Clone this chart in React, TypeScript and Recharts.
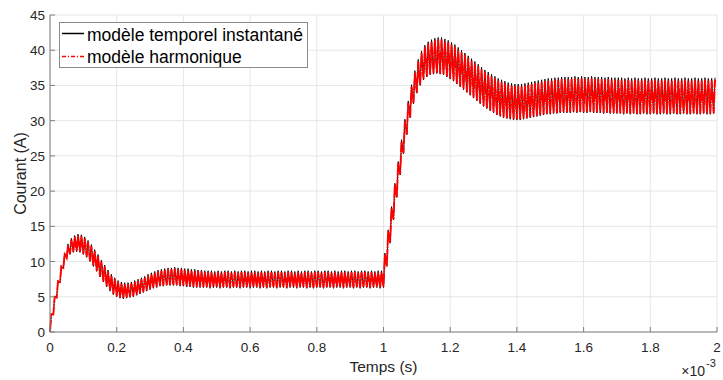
import React from 'react';
import { LineChart, Line, XAxis, YAxis, CartesianGrid } from 'recharts';

// temps en ms (affiché avec le facteur x10^-3) ; une période de découpage = 10 µs
const PERIODE = 0.01;
const MONTEE = 0.004;

const xTicks = [0, 0.2, 0.4, 0.6, 0.8, 1, 1.2, 1.4, 1.6, 1.8, 2];
const yTicks = [0, 5, 10, 15, 20, 25, 30, 35, 40, 45];

// modèle temporel instantané : sommets et creux de l'ondulation, période par période
const tempoHaut = [
  2.6, 5.1, 7.3, 9.4, 11.2, 12.5, 13.3, 13.7, 13.9, 13.8,
  13.5, 13.0, 12.4, 11.7, 11.0, 10.2, 9.5, 8.8, 8.2, 7.7,
  7.3, 7.1, 7.0, 7.0, 7.1, 7.3, 7.5, 7.7, 7.9, 8.2,
  8.4, 8.6, 8.8, 8.9, 9.0, 9.1, 9.1, 9.2, 9.1, 9.1,
  9.0, 9.0, 8.9, 8.9, 8.8, 8.8, 8.7, 8.7, 8.7, 8.6,
  8.7, 8.6, 8.7, 8.7, 8.6, 8.7, 8.6, 8.7, 8.7, 8.6,
  8.7, 8.7, 8.6, 8.7, 8.6, 8.7, 8.7, 8.6, 8.7, 8.7,
  8.6, 8.7, 8.7, 8.6, 8.7, 8.6, 8.7, 8.7, 8.6, 8.7,
  8.7, 8.6, 8.7, 8.7, 8.6, 8.7, 8.6, 8.7, 8.7, 8.6,
  8.7, 8.7, 8.6, 8.7, 8.7, 8.6, 8.7, 8.6, 8.7, 8.7,
  11.2, 14.5, 17.8, 21.1, 24.2, 27.3, 30.2, 32.8, 35.1, 37.1,
  38.7, 39.9, 40.7, 41.2, 41.5, 41.7, 41.8, 41.8, 41.6, 41.4,
  41.1, 40.8, 40.4, 40.0, 39.6, 39.2, 38.8, 38.4, 38.0, 37.6,
  37.2, 36.9, 36.6, 36.3, 36.0, 35.8, 35.6, 35.4, 35.3, 35.2,
  35.2, 35.2, 35.3, 35.4, 35.5, 35.6, 35.7, 35.8, 35.9, 36.0,
  36.0, 36.1, 36.1, 36.2, 36.2, 36.2, 36.2, 36.3, 36.2, 36.3,
  36.2, 36.2, 36.3, 36.2, 36.2, 36.2, 36.1, 36.2, 36.1, 36.1,
  36.1, 36.1, 36.0, 36.1, 36.0, 36.1, 36.0, 36.0, 36.1, 36.0,
  36.0, 36.1, 36.0, 36.0, 36.1, 36.0, 36.0, 36.1, 36.0, 36.0,
  36.1, 36.0, 36.0, 36.1, 36.0, 36.0, 36.1, 36.0, 36.0, 36.1,
];

const tempoBas = [
  0.0, 2.4, 4.8, 7.0, 9.0, 10.4, 11.0, 11.3, 11.4, 11.3,
  11.0, 10.6, 10.0, 9.3, 8.6, 7.8, 7.1, 6.4, 5.8, 5.3,
  5.0, 4.8, 4.7, 4.8, 4.9, 5.0, 5.2, 5.4, 5.6, 5.8,
  6.0, 6.2, 6.3, 6.5, 6.5, 6.6, 6.6, 6.6, 6.6, 6.5,
  6.5, 6.4, 6.4, 6.3, 6.3, 6.3, 6.3, 6.3, 6.2, 6.3,
  6.3, 6.2, 6.3, 6.3, 6.2, 6.3, 6.3, 6.2, 6.3, 6.3,
  6.2, 6.3, 6.3, 6.2, 6.3, 6.2, 6.3, 6.3, 6.2, 6.3,
  6.3, 6.2, 6.3, 6.3, 6.2, 6.3, 6.3, 6.2, 6.3, 6.2,
  6.3, 6.3, 6.2, 6.3, 6.3, 6.2, 6.3, 6.3, 6.2, 6.3,
  6.3, 6.2, 6.3, 6.2, 6.3, 6.3, 6.2, 6.3, 6.3, 6.2,
  6.3, 9.3, 12.6, 15.9, 19.1, 22.3, 25.3, 28.0, 30.4, 32.4,
  33.9, 35.0, 35.8, 36.2, 36.5, 36.6, 36.7, 36.6, 36.5, 36.2,
  35.9, 35.6, 35.2, 34.8, 34.4, 34.0, 33.6, 33.2, 32.8, 32.4,
  32.0, 31.7, 31.4, 31.1, 30.8, 30.6, 30.4, 30.3, 30.2, 30.1,
  30.1, 30.1, 30.2, 30.3, 30.4, 30.5, 30.6, 30.7, 30.8, 30.9,
  30.9, 31.0, 31.0, 31.1, 31.1, 31.1, 31.1, 31.2, 31.1, 31.2,
  31.1, 31.1, 31.2, 31.1, 31.1, 31.1, 31.0, 31.1, 31.0, 31.0,
  31.0, 31.0, 30.9, 31.0, 30.9, 31.0, 30.9, 30.9, 31.0, 30.9,
  30.9, 31.0, 30.9, 30.9, 31.0, 30.9, 30.9, 31.0, 30.9, 30.9,
  31.0, 30.9, 30.9, 31.0, 30.9, 30.9, 31.0, 30.9, 30.9, 31.0,
];

// modèle harmonique : même allure, ondulation un peu plus faible
const harmoHaut = [
  2.5, 5.0, 7.2, 9.3, 11.0, 12.3, 13.1, 13.5, 13.7, 13.6,
  13.3, 12.8, 12.2, 11.5, 10.8, 10.0, 9.3, 8.6, 8.0, 7.5,
  7.1, 6.9, 6.8, 6.8, 6.9, 7.1, 7.3, 7.5, 7.7, 8.0,
  8.2, 8.4, 8.6, 8.7, 8.8, 8.9, 8.9, 9.0, 8.9, 8.9,
  8.8, 8.8, 8.7, 8.7, 8.6, 8.6, 8.5, 8.5, 8.5, 8.4,
  8.5, 8.4, 8.5, 8.5, 8.4, 8.5, 8.4, 8.5, 8.5, 8.4,
  8.5, 8.5, 8.4, 8.5, 8.4, 8.5, 8.5, 8.4, 8.5, 8.5,
  8.4, 8.5, 8.5, 8.4, 8.5, 8.4, 8.5, 8.5, 8.4, 8.5,
  8.5, 8.4, 8.5, 8.5, 8.4, 8.5, 8.4, 8.5, 8.5, 8.4,
  8.5, 8.5, 8.4, 8.5, 8.5, 8.4, 8.5, 8.4, 8.5, 8.5,
  11.0, 14.3, 17.6, 20.9, 24.0, 27.0, 29.9, 32.5, 34.8, 36.8,
  38.4, 39.6, 40.4, 40.9, 41.2, 41.4, 41.5, 41.5, 41.3, 41.1,
  40.8, 40.5, 40.1, 39.7, 39.3, 38.9, 38.5, 38.1, 37.7, 37.3,
  36.9, 36.6, 36.3, 36.0, 35.7, 35.5, 35.3, 35.1, 35.0, 34.9,
  34.9, 34.9, 35.0, 35.1, 35.2, 35.3, 35.4, 35.5, 35.6, 35.7,
  35.7, 35.8, 35.8, 35.9, 35.9, 35.9, 35.9, 36.0, 35.9, 36.0,
  35.9, 35.9, 36.0, 35.9, 35.9, 35.9, 35.8, 35.9, 35.8, 35.8,
  35.8, 35.8, 35.7, 35.8, 35.7, 35.8, 35.7, 35.7, 35.8, 35.7,
  35.7, 35.8, 35.7, 35.7, 35.8, 35.7, 35.7, 35.8, 35.7, 35.7,
  35.8, 35.7, 35.7, 35.8, 35.7, 35.7, 35.8, 35.7, 35.7, 35.8,
];

const harmoBas = [
  0.0, 2.5, 4.9, 7.1, 9.1, 10.5, 11.1, 11.4, 11.5, 11.4,
  11.1, 10.7, 10.1, 9.4, 8.7, 7.9, 7.2, 6.5, 5.9, 5.4,
  5.1, 4.9, 4.8, 4.9, 5.0, 5.1, 5.3, 5.5, 5.7, 5.9,
  6.1, 6.3, 6.4, 6.6, 6.6, 6.7, 6.7, 6.7, 6.7, 6.6,
  6.6, 6.5, 6.5, 6.4, 6.4, 6.4, 6.4, 6.4, 6.3, 6.4,
  6.4, 6.3, 6.4, 6.4, 6.3, 6.4, 6.4, 6.3, 6.4, 6.4,
  6.3, 6.4, 6.4, 6.3, 6.4, 6.3, 6.4, 6.4, 6.3, 6.4,
  6.4, 6.3, 6.4, 6.4, 6.3, 6.4, 6.4, 6.3, 6.4, 6.3,
  6.4, 6.4, 6.3, 6.4, 6.4, 6.3, 6.4, 6.4, 6.3, 6.4,
  6.4, 6.3, 6.4, 6.3, 6.4, 6.4, 6.3, 6.4, 6.4, 6.3,
  6.4, 9.4, 12.7, 16.0, 19.2, 22.4, 25.4, 28.1, 30.5, 32.5,
  34.0, 35.1, 35.9, 36.3, 36.6, 36.7, 36.8, 36.7, 36.6, 36.3,
  36.0, 35.7, 35.3, 34.9, 34.5, 34.1, 33.7, 33.3, 32.9, 32.5,
  32.1, 31.8, 31.5, 31.2, 30.9, 30.7, 30.5, 30.4, 30.3, 30.2,
  30.2, 30.2, 30.3, 30.4, 30.5, 30.6, 30.7, 30.8, 30.9, 31.0,
  31.0, 31.1, 31.1, 31.2, 31.2, 31.2, 31.2, 31.3, 31.2, 31.3,
  31.2, 31.2, 31.3, 31.2, 31.2, 31.2, 31.1, 31.2, 31.1, 31.1,
  31.1, 31.1, 31.0, 31.1, 31.0, 31.1, 31.0, 31.0, 31.1, 31.0,
  31.0, 31.1, 31.0, 31.0, 31.1, 31.0, 31.0, 31.1, 31.0, 31.0,
  31.1, 31.0, 31.0, 31.1, 31.0, 31.0, 31.1, 31.0, 31.0, 31.1,
];

const data: { t: number; temporel: number; harmonique: number }[] = [];
tempoHaut.forEach((_, k) => {
  data.push({ t: k * PERIODE, temporel: tempoBas[k], harmonique: harmoBas[k] });
  data.push({ t: k * PERIODE + MONTEE, temporel: tempoHaut[k], harmonique: harmoHaut[k] });
});

const FONT = '"Liberation Sans", Arial, Helvetica, sans-serif';
const TEXT = '#262626';
const AXIS = '#7f7f7f';
const GRID = '#e6e6e6';
const PLOT_LEFT = 50;
const PLOT_BOTTOM = 332;

const XTick = (props: any) => {
  const { x, payload } = props;
  return (
    <g>
      <line x1={x} y1={PLOT_BOTTOM} x2={x} y2={PLOT_BOTTOM - 5} stroke={AXIS} />
      <text x={x} y={352} textAnchor="middle" fill={TEXT} fontSize={13.5} fontFamily={FONT}>
        {String(payload.value)}
      </text>
    </g>
  );
};

const YTick = (props: any) => {
  const { y, payload } = props;
  return (
    <g>
      <line x1={PLOT_LEFT} y1={y} x2={PLOT_LEFT + 5} y2={y} stroke={AXIS} />
      <text x={45} y={y + 5} textAnchor="end" fill={TEXT} fontSize={13.5} fontFamily={FONT}>
        {String(payload.value)}
      </text>
    </g>
  );
};

const App = () => {
  return (
    <div
      style={{
        position: 'fixed',
        left: 0,
        top: 0,
        width: 723,
        height: 380,
        overflow: 'hidden',
        background: '#fff',
      }}
    >
      <LineChart width={723} height={380} data={data} margin={{ top: 15, right: 6, bottom: 0, left: 0 }}>
        <CartesianGrid stroke={GRID} />
        <XAxis
          dataKey="t"
          type="number"
          domain={[0, 2]}
          ticks={xTicks}
          interval={0}
          height={48}
          axisLine={{ stroke: AXIS }}
          tickLine={false}
          tick={<XTick />}
          label={{ value: 'Temps (s)', position: 'insideBottom', offset: 8, fill: TEXT, fontSize: 15.5, fontFamily: FONT }}
        />
        <YAxis
          type="number"
          domain={[0, 45]}
          ticks={yTicks}
          interval={0}
          width={50}
          axisLine={{ stroke: AXIS }}
          tickLine={false}
          tick={<YTick />}
          label={{
            value: 'Courant (A)',
            angle: -90,
            position: 'insideLeft',
            offset: 20,
            fill: TEXT,
            fontSize: 16,
            fontFamily: FONT,
            style: { textAnchor: 'middle' },
          }}
        />
        <Line
          type="linear"
          dataKey="temporel"
          stroke="#000000"
          strokeWidth={0.9}
          dot={false}
          isAnimationActive={false}
        />
        <Line
          type="linear"
          dataKey="harmonique"
          stroke="#ff0000"
          strokeWidth={1.9}
          strokeDasharray="12 1 1.5 1"
          dot={false}
          isAnimationActive={false}
        />
      </LineChart>

      {/* facteur d'échelle de l'axe des abscisses */}
      <svg width={723} height={380} style={{ position: 'absolute', left: 0, top: 0, pointerEvents: 'none' }}>
        <text x={705} y={376} textAnchor="end" fill={TEXT} fontSize={14} fontFamily={FONT}>
          ×10
        </text>
        <text x={706} y={367} fill={TEXT} fontSize={11} fontFamily={FONT}>
          -3
        </text>
      </svg>

      {/* légende */}
      <div
        style={{
          position: 'absolute',
          left: 59,
          top: 22,
          width: 249,
          height: 46,
          boxSizing: 'border-box',
          border: '1px solid #8a8a8a',
          background: '#fff',
        }}
      >
        <svg width={247} height={44} style={{ display: 'block' }}>
          <line x1={2} y1={10.5} x2={24} y2={10.5} stroke="#000" strokeWidth={1.5} />
          <text x={27} y={18} fill="#000" fontSize={17.5} fontFamily={FONT}>
            modèle temporel instantané
          </text>
          <line x1={2} y1={33.5} x2={24} y2={33.5} stroke="#ff0000" strokeWidth={1.5} strokeDasharray="4 2 1 2" />
          <text x={27} y={40} fill="#000" fontSize={17.5} fontFamily={FONT}>
            modèle harmonique
          </text>
        </svg>
      </div>
    </div>
  );
};

export default App;
